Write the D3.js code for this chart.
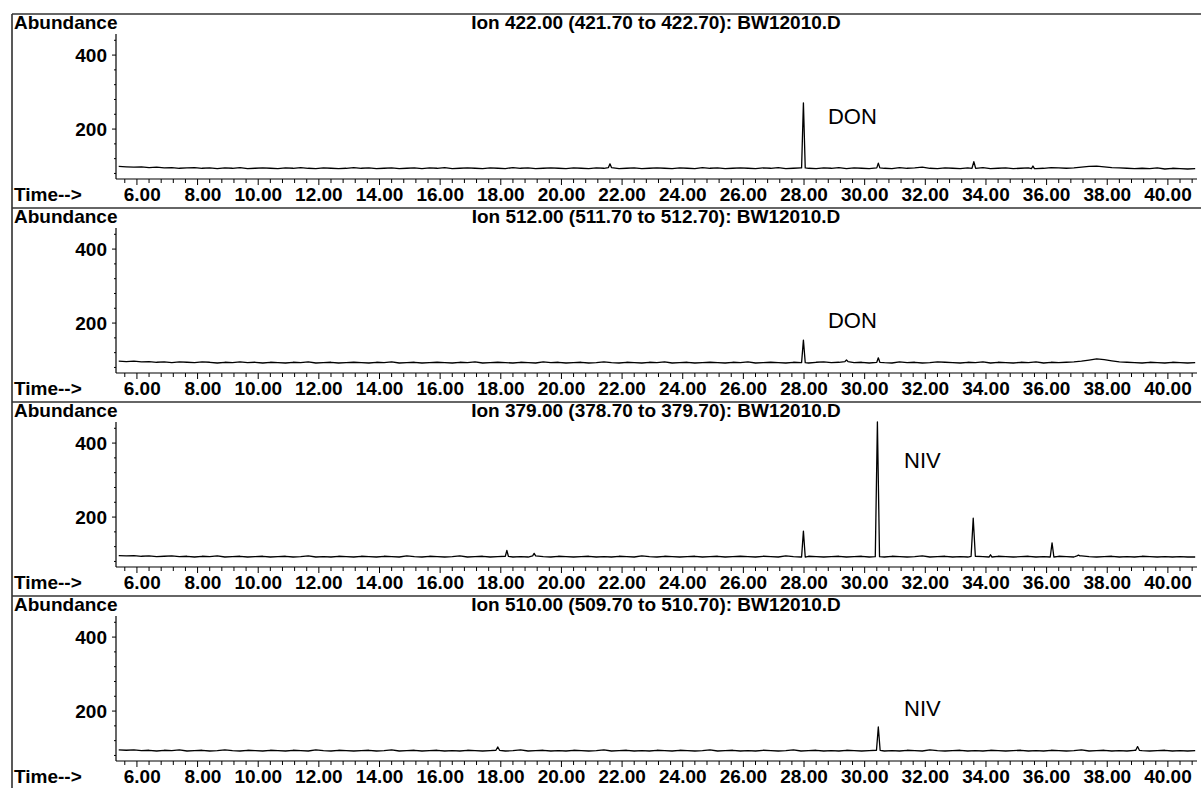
<!DOCTYPE html>
<html>
<head>
<meta charset="utf-8">
<script src="https://cdn.jsdelivr.net/npm/d3@7"></script>
<style>
  html, body { margin: 0; padding: 0; background: #fff; }
  svg { display: block; }
</style>
</head>
<body>
<div id="chart"></div>
<script>
// ─── Data: four extracted-ion chromatograms of the same run ───
const ionTitles = [
  "Ion 422.00 (421.70 to 422.70): BW12010.D",
  "Ion 512.00 (511.70 to 512.70): BW12010.D",
  "Ion 379.00 (378.70 to 379.70): BW12010.D",
  "Ion 510.00 (509.70 to 510.70): BW12010.D",
];
const compoundLabels = ["DON", "DON", "NIV", "NIV"];

// baseline samples, one every 0.25 min starting at 5.40 min
const scanStart = 5.4;
const scanStep = 0.25;

const baseline422 = [
  99,98,97,98,96,97,95,96,94,95,96,94,95,93,95,94,96,93,94,95,
  94,93,95,94,96,94,93,95,94,93,94,96,94,95,93,94,95,93,94,95,
  93,95,94,96,93,94,95,94,93,95,94,93,96,94,95,93,94,95,94,93,
  95,94,93,95,94,96,93,94,95,93,94,95,94,93,95,94,93,96,94,95,
  93,94,95,94,93,95,94,96,93,94,95,94,93,95,94,96,93,95,94,93,
  95,94,93,96,94,95,97,94,93,95,94,93,95,94,96,93,94,95,93,94,
  95,93,94,96,95,94,95,97,99,100,98,96,95,94,93,94,93,95,92,94,
  93,92,93,
];
const baseline512 = [
  97,96,97,95,96,94,95,93,95,94,93,95,94,92,94,93,95,93,94,92,
  94,93,92,94,93,95,92,93,94,92,93,94,93,92,94,93,95,92,93,94,
  92,93,94,93,92,94,93,95,92,93,94,93,92,94,93,92,95,93,94,92,
  93,94,92,93,95,93,92,94,93,92,94,93,95,92,93,94,92,93,94,93,
  92,94,93,95,92,93,94,93,92,94,93,92,94,95,93,94,96,93,94,92,
  94,93,92,95,93,94,92,93,95,94,93,92,94,93,95,92,94,93,92,94,
  93,95,92,94,93,94,95,97,100,103,101,98,95,94,93,92,94,93,92,94,
  93,92,93,
];
const baseline379 = [
  96,95,96,94,95,93,94,95,93,94,92,94,93,95,92,93,94,92,93,94,
  92,93,94,92,93,95,92,93,92,94,93,92,94,93,92,94,93,92,95,93,
  92,94,93,92,93,95,92,93,94,92,93,94,92,93,92,95,93,92,94,93,
  92,93,94,92,93,92,94,93,92,95,93,92,94,93,92,93,94,92,93,94,
  92,93,94,93,92,94,93,92,95,93,92,94,93,92,93,94,92,93,94,92,
  93,92,94,93,92,93,95,92,93,94,92,93,92,94,93,92,94,93,92,93,
  94,92,93,92,94,93,92,95,93,92,93,94,92,93,92,94,93,92,93,92,
  93,92,92,
];
const baseline510 = [
  95,94,95,93,94,92,94,93,95,92,93,94,92,93,95,93,92,94,93,92,
  94,93,92,94,93,92,95,93,92,94,93,92,93,94,92,93,95,92,93,94,
  92,93,94,92,93,92,94,93,92,93,94,92,93,95,92,93,94,92,93,92,
  94,93,92,93,95,92,93,94,92,93,92,94,93,92,94,93,92,93,95,92,
  93,94,92,93,92,94,93,92,93,95,92,93,94,92,93,92,94,93,92,93,
  94,92,93,92,94,93,92,95,93,92,93,94,92,93,92,94,93,92,93,94,
  92,93,92,94,93,92,93,95,92,93,94,92,93,92,94,93,92,93,94,92,
  93,92,93,
];

// peaks: [retention time (min), apex abundance, half width (min)]
const peaks422 = [[21.6, 106, 0.05], [27.98, 271, 0.06], [30.45, 108, 0.05], [33.6, 112, 0.06], [35.55, 100, 0.05]];
const peaks512 = [[27.98, 154, 0.06], [29.4, 100, 0.05], [30.45, 106, 0.05]];
const peaks379 = [[18.2, 110, 0.05], [19.1, 102, 0.05], [27.98, 162, 0.06], [30.42, 457, 0.07],
                  [33.58, 197, 0.07], [34.15, 98, 0.05], [36.18, 130, 0.06], [37.05, 97, 0.05]];
const peaks510 = [[17.9, 103, 0.06], [30.45, 157, 0.06], [39.0, 104, 0.06]];

// label anchors in data units: [time, abundance]
const labelAnchors = [[28.79, 214], [28.79, 187], [31.3, 333], [31.3, 187]];

// axis ticks
const xTickValues = [6, 8, 10, 12, 14, 16, 18, 20, 22, 24, 26, 28, 30, 32, 34, 36, 38, 40];
const xMinorStep = 0.4;
const yTickValues = [200, 400];
const yMinorStep = 40;

// ─── Layout ───
const W = 1201, H = 788;
const frameLeft = 12, frameTop = 14, panelH = 194;
const plotLeft = 116, plotRight = 1197;
const plotTop = 20, plotBottom = 165;
const FONT = "'Liberation Sans', Arial, sans-serif";

const xScale = d3.scaleLinear().domain([5.31, 40.96]).range([plotLeft, plotRight]);
const yScale = d3.scaleLinear().domain([65, 457]).range([plotBottom, plotTop]);

const panels = [
  { base: baseline422, peaks: peaks422 },
  { base: baseline512, peaks: peaks512 },
  { base: baseline379, peaks: peaks379 },
  { base: baseline510, peaks: peaks510 },
].map((p, i) => ({ ...p, title: ionTitles[i], label: compoundLabels[i], anchor: labelAnchors[i] }));

// merge baseline samples with the peak apexes
function buildTrace(base, peaks) {
  const pts = base
    .map((v, i) => [scanStart + i * scanStep, v])
    .filter(([t]) => !peaks.some(([pt, , w]) => Math.abs(t - pt) <= w));
  peaks.forEach(([pt, top, w]) => {
    const i = Math.max(0, Math.min(base.length - 1, Math.round((pt - scanStart) / scanStep)));
    pts.push([pt - w, base[i]], [pt, top], [pt + w, base[i]]);
  });
  return pts.sort((a, b) => a[0] - b[0]);
}

const svg = d3.select("#chart").append("svg")
  .attr("width", W).attr("height", H)
  .attr("viewBox", `0 0 ${W} ${H}`);

svg.append("rect").attr("width", W).attr("height", H).attr("fill", "#fff");

// ─── Frame: left rule + panel separators ───
svg.append("line")
  .attr("x1", frameLeft).attr("x2", frameLeft)
  .attr("y1", frameTop).attr("y2", H)
  .attr("stroke", "#222").attr("stroke-width", 1.5);

const line = d3.line().x((d) => xScale(d[0])).y((d) => yScale(d[1]));

const xMinor = d3.range(5.6, 40.95, xMinorStep);
const yMinor = d3.range(80, 457, yMinorStep);

panels.forEach((p, k) => {
  const g = svg.append("g").attr("transform", `translate(0,${frameTop + k * panelH})`);

  g.append("line")
    .attr("x1", frameLeft).attr("x2", W)
    .attr("y1", 0).attr("y2", 0)
    .attr("stroke", "#333").attr("stroke-width", 1.5);

  g.append("text")
    .attr("x", frameLeft + 2).attr("y", 15)
    .style("font", `bold 19px ${FONT}`)
    .text("Abundance");

  g.append("text")
    .attr("x", 656).attr("y", 15)
    .attr("text-anchor", "middle")
    .style("font", `bold 19px ${FONT}`)
    .text(p.title);

  // ── Y axis ──
  g.append("line")
    .attr("x1", plotLeft).attr("x2", plotLeft)
    .attr("y1", plotTop).attr("y2", plotBottom)
    .attr("stroke", "#000").attr("stroke-width", 1.2);

  g.append("g").selectAll("line")
    .data(yMinor)
    .join("line")
    .attr("x1", (d) => plotLeft - (yTickValues.includes(d) ? 4 : 2))
    .attr("x2", plotLeft)
    .attr("y1", (d) => yScale(d)).attr("y2", (d) => yScale(d))
    .attr("stroke", "#000").attr("stroke-width", 1);

  g.append("g").selectAll("text")
    .data(yTickValues)
    .join("text")
    .attr("x", plotLeft - 9)
    .attr("y", (d) => yScale(d) + 7)
    .attr("text-anchor", "end")
    .style("font", `bold 19px ${FONT}`)
    .text((d) => d);

  // ── X axis ──
  g.append("line")
    .attr("x1", plotLeft).attr("x2", plotRight)
    .attr("y1", plotBottom).attr("y2", plotBottom)
    .attr("stroke", "#000").attr("stroke-width", 1.2);

  g.append("g").selectAll("line")
    .data(xMinor)
    .join("line")
    .attr("x1", (d) => xScale(d)).attr("x2", (d) => xScale(d))
    .attr("y1", plotBottom)
    .attr("y2", (d) => plotBottom + (xTickValues.some((v) => Math.abs(v - d) < 1e-6) ? 6 : 4))
    .attr("stroke", "#000").attr("stroke-width", 1);

  // decimal point sits on the tick
  const xl = g.append("g").selectAll("g")
    .data(xTickValues)
    .join("g")
    .style("font", `bold 19px ${FONT}`);
  xl.append("text")
    .attr("x", (d) => xScale(d) - 2.6).attr("y", 186.5)
    .attr("text-anchor", "end")
    .text((d) => Math.floor(d));
  xl.append("text")
    .attr("x", (d) => xScale(d) - 2.6).attr("y", 186.5)
    .text(".00");

  g.append("text")
    .attr("x", frameLeft + 2).attr("y", 186.5)
    .style("font", `bold 19px ${FONT}`)
    .text("Time-->");

  // ── Trace ──
  g.append("path")
    .datum(buildTrace(p.base, p.peaks))
    .attr("d", line)
    .attr("fill", "none")
    .attr("stroke", "#000")
    .attr("stroke-width", 1.3)
    .attr("stroke-linejoin", "round");

  // ── Compound label ──
  g.append("text")
    .attr("x", xScale(p.anchor[0]))
    .attr("y", yScale(p.anchor[1]))
    .style("font", `22px ${FONT}`)
    .text(p.label);
});
</script>
</body>
</html>
